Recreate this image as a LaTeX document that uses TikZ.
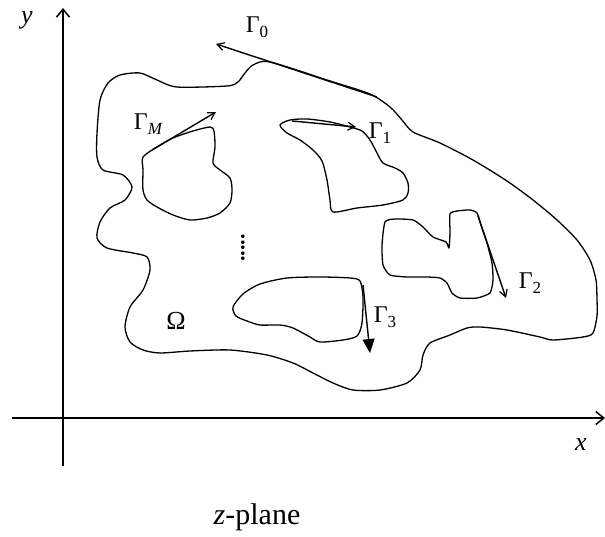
\documentclass[tikz,border=0pt]{standalone}
\usepackage{fontspec}
\setmainfont{Liberation Serif}
\usetikzlibrary{arrows.meta}
\newcommand{\Gsub}[1]{Γ\raisebox{-0.45ex}{\fontsize{17}{17}\selectfont #1}}
\begin{document}
\begin{tikzpicture}[x=1pt,y=-1pt,
  curve/.style={line width=1.3pt, line join=round},
  axis/.style={line width=1.8pt, -{Straight Barb[length=8pt,width=13pt,line width=1.5pt]}},
  flow/.style={line width=1.4pt, -{Straight Barb[length=7pt,width=8pt,line width=1.2pt]}},
  flowfill/.style={line width=1.4pt, -{Triangle[length=14pt,width=12pt]}},
  lbl/.style={inner sep=0pt, font=\fontsize{24}{24}\selectfont}]
\useasboundingbox (0,0) rectangle (605,537);

% axes
\coordinate (xs) at (12,418);
\coordinate (xe) at (605,418);
\coordinate (ys) at (63,466);
\coordinate (ye) at (63,8);
\draw[axis] (xs) -- (xe);
\draw[axis] (ys) -- (ye);
\node[lbl, font=\fontsize{26}{26}\selectfont\itshape] (ylab) at (27,20) {y};
\node[lbl, font=\fontsize{26}{26}\selectfont\itshape] (xlab) at (581,445) {x};
\node[lbl, font=\fontsize{30}{30}\selectfont] (plane) at (257,517) {\textit{z}-plane};

% outer boundary
\draw[curve] plot[smooth cycle, tension=0.45] coordinates {
 (120,75) (140,73) (157,80) (177,87) (227,86) (238,82) (245,73) (253,65) (270,62)
 (330,81) (370,94) (390,107) (402,120) (413,132) (440,143) (473,160) (507,181)
 (533,200) (557,220) (577,240) (590,260) (596,280) (597,300) (597,316) (593,333)
 (583,337) (553,340) (540,337) (507,330) (480,327) (467,328) (450,335) (430,343)
 (423,355) (420,370) (407,383) (380,390) (353,390) (333,383) (313,373) (293,363)
 (267,355) (230,350) (190,351) (160,353) (143,350) (130,342) (125,327) (130,307)
 (143,290) (150,270) (147,257) (133,253) (107,248) (97,238) (100,222) (110,208)
 (125,200) (132,187) (123,175) (103,170) (97,157) (97,133) (100,100) (108,83)};

% hole M
\draw[curve] plot[smooth cycle, tension=0.45] coordinates {
 (143,157) (157,147) (173,138) (193,131) (210,127) (214,131) (215,147) (213,163)
 (220,170) (230,178) (232,190) (230,203) (220,213) (207,218) (190,220) (173,215)
 (157,207) (147,200) (143,190) (143,170)};

% hole 1
\draw[curve] plot[smooth cycle, tension=0.45] coordinates {
 (280,125) (290,120) (307,119) (330,122) (350,127) (362,131) (370,140) (377,153)
 (383,163) (395,168) (403,173) (408,183) (408,193) (403,200) (383,205) (357,208)
 (333,212) (330,200) (327,180) (322,161) (313,150) (300,140) (287,133)};

% hole 2
\draw[curve] plot[smooth cycle, tension=0.35] coordinates {
 (385,222) (395,219) (413,220) (423,227) (433,237) (446,242) (449,248) (450,233)
 (450,214) (457,211) (470,210) (477,213) (481,225) (487,243) (492,263) (493,280)
 (490,293) (477,298) (460,298) (452,293) (447,283) (440,278) (427,277) (407,277)
 (390,275) (383,265) (382,245)};

% hole 3
\draw[curve] plot[smooth cycle, tension=0.45] coordinates {
 (233,307) (243,294) (260,284) (287,278) (320,277) (350,278) (360,281) (363,297)
 (362,323) (357,336) (343,340) (320,342) (310,337) (293,328) (280,325) (260,325)
 (247,321) (236,316)};

% orientation arrows
\coordinate (g0s) at (377,97);  \coordinate (g0e) at (216,44);
\coordinate (gms) at (152,150); \coordinate (gme) at (216,112);
\coordinate (g1s) at (292,121); \coordinate (g1e) at (356,127);
\coordinate (g2s) at (478,216); \coordinate (g2e) at (506,298);
\coordinate (g3s) at (363,285); \coordinate (g3e) at (370,353);
\draw[flow] (g0s) -- (g0e);
\draw[flow] (gms) -- (gme);
\draw[flow] (g1s) -- (g1e);
\draw[flow] (g2s) -- (g2e);
\draw[flowfill] (g3s) -- (g3e);

% labels
\node[lbl] (L0) at (257,27) {\Gsub{0}};
\node[lbl] (LM) at (148,124) {\Gsub{\itshape M}};
\node[lbl] (L1) at (380,133) {\Gsub{1}};
\node[lbl] (L2) at (530,283) {\Gsub{2}};
\node[lbl] (L3) at (385,317) {\Gsub{3}};
\node[lbl, font=\fontsize{26}{26}\selectfont] (Om) at (176,321) {Ω};
\node[lbl, font=\fontsize{22}{22}\selectfont\bfseries] (dots) at (243,248) {\rotatebox{90}{.....}};
\end{tikzpicture}
\end{document}
